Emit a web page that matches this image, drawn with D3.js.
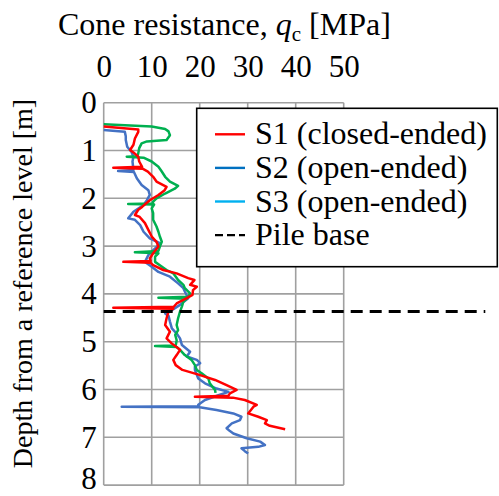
<!DOCTYPE html>
<html>
<head>
<meta charset="utf-8">
<script src="https://cdn.jsdelivr.net/npm/d3@7"></script>
<style>
  body { margin: 0; background: #fff; }
</style>
</head>
<body>
<div id="chart"></div>
<script>
// CPT profiles: [cone resistance qc (MPa), depth (m)]
var s1Points = [
    [0, 0.50], [7.2, 0.56], [7.2, 0.61], [6.5, 0.75], [6.2, 0.88], [5.5, 0.99], [6.2, 1.04], [7.2, 1.13],
    [7.4, 1.23], [8.0, 1.34], [2.0, 1.36], [8.1, 1.38], [9.2, 1.44], [10.3, 1.55], [11.0, 1.65], [13.1, 1.76],
    [12.7, 1.83], [11.4, 1.93], [9.6, 2.04], [8.0, 2.18], [7.2, 2.24], [6.5, 2.35], [7.5, 2.39], [8.6, 2.52],
    [9.3, 2.66], [10.0, 2.80], [11.0, 2.91], [11.4, 3.01], [10.3, 3.15], [9.6, 3.26], [9.8, 3.31], [4.1, 3.33],
    [9.8, 3.35], [10.3, 3.40], [12.4, 3.50], [15.2, 3.57], [17.6, 3.67], [18.9, 3.71], [18.0, 3.81], [19.4, 3.85],
    [18.6, 3.92], [18.5, 4.02], [17.3, 4.09], [15.2, 4.20], [14.6, 4.27], [2.0, 4.29], [14.5, 4.31], [13.5, 4.37],
    [13.1, 4.51], [12.8, 4.65], [13.8, 4.79], [13.1, 4.93], [14.1, 5.03], [15.9, 5.17], [15.2, 5.28], [14.5, 5.38],
    [15.0, 5.49], [16.4, 5.59], [20.1, 5.70], [23.2, 5.80], [25.6, 5.91], [27.7, 6.01], [26.3, 6.08], [26.0, 6.13],
    [19.0, 6.15], [26.9, 6.17], [29.4, 6.22], [31.9, 6.32], [31.2, 6.36], [30.1, 6.50], [32.2, 6.57], [34.0, 6.64],
    [33.6, 6.71], [34.6, 6.76], [37.8, 6.83]
];
var s2Points = [
    [0, 0.57], [4.4, 0.61], [4.6, 0.70], [4.6, 0.78], [4.9, 0.92], [5.8, 1.03], [6.2, 1.13], [6.0, 1.23],
    [6.2, 1.41], [3.0, 1.43], [6.3, 1.45], [6.9, 1.58], [7.9, 1.72], [9.3, 1.83], [9.6, 1.93], [9.0, 2.04],
    [8.3, 2.14], [6.2, 2.28], [5.1, 2.42], [6.5, 2.45], [7.6, 2.56], [8.3, 2.70], [9.6, 2.84], [11.7, 2.94],
    [10.7, 3.05], [9.3, 3.19], [8.6, 3.33], [10.0, 3.43], [11.4, 3.54], [13.8, 3.64], [15.5, 3.78], [16.6, 3.88],
    [16.9, 3.95], [17.6, 4.09], [15.9, 4.23], [14.2, 4.34], [12.8, 4.41], [13.5, 4.46], [13.8, 4.58], [14.2, 4.72],
    [15.2, 4.83], [15.9, 4.93], [16.3, 5.07], [18.0, 5.21], [17.3, 5.31], [19.4, 5.38], [20.1, 5.45], [19.0, 5.52],
    [19.0, 5.59], [19.7, 5.77], [21.1, 5.87], [23.5, 5.98], [26.0, 6.05], [23.9, 6.12], [21.1, 6.22], [19.7, 6.32],
    [19.8, 6.35], [3.75, 6.36], [20.0, 6.37], [23.5, 6.43], [27.0, 6.50], [28.7, 6.57], [28.4, 6.64], [26.7, 6.71],
    [25.6, 6.81], [26.3, 6.87], [27.0, 6.92], [29.8, 7.02], [32.6, 7.09], [33.6, 7.16], [32.2, 7.20], [28.7, 7.23],
    [29.4, 7.29], [30.1, 7.34]
];
var s3Points = [
    [0, 0.45], [10.0, 0.50], [12.8, 0.55], [13.5, 0.60], [13.8, 0.68], [13.1, 0.78], [9.0, 0.81], [7.9, 0.85],
    [7.4, 0.95], [7.2, 1.06], [7.0, 1.12], [4.8, 1.13], [8.3, 1.15], [10.0, 1.23], [11.4, 1.34], [12.1, 1.44],
    [12.8, 1.55], [13.8, 1.65], [15.5, 1.74], [14.8, 1.80], [12.8, 1.90], [11.0, 2.00], [10.3, 2.07], [10.2, 2.11],
    [5.1, 2.12], [10.5, 2.13], [10.0, 2.21], [10.3, 2.31], [10.3, 2.45], [11.0, 2.59], [11.4, 2.70], [11.7, 2.80],
    [12.1, 2.91], [11.7, 3.01], [11.4, 3.10], [6.5, 3.13], [11.4, 3.15], [10.7, 3.22], [10.7, 3.33], [11.7, 3.40],
    [13.1, 3.50], [14.5, 3.57], [15.5, 3.71], [16.6, 3.81], [16.9, 3.88], [18.0, 3.99], [17.6, 4.06], [11.4, 4.08],
    [17.3, 4.10], [16.6, 4.16], [16.3, 4.26], [15.9, 4.37], [15.5, 4.51], [15.2, 4.65], [15.5, 4.76], [14.9, 4.86],
    [15.2, 4.97], [15.0, 5.08], [10.7, 5.09], [15.2, 5.11], [15.9, 5.17], [16.9, 5.28], [18.3, 5.38], [19.0, 5.49],
    [19.4, 5.59], [20.4, 5.66], [21.8, 5.77], [22.1, 5.87], [23.2, 6.01], [23.3, 6.07]
];
// pile base depth, drawn as a dashed line from qc 0 out past the legend
var pileBase = [[0, 4.37], [79.5, 4.37]];

var xTicks = [0, 10, 20, 30, 40, 50];
var yTicks = [0, 1, 2, 3, 4, 5, 6, 7, 8];
var legendLabels = ["S1 (closed-ended)", "S2 (open-ended)", "S3 (open-ended)", "Pile base"];

var serif = "'Liberation Serif', 'Noto Serif', 'DejaVu Serif', 'Times New Roman', Times, 'Nimbus Roman', FreeSerif, serif";

// SVG canvas
var svgWidth = 499;
var svgHeight = 496;

var margin = { top: 102.7, left: 103.7 };
var chartWidth = 240;
var chartHeight = 382.4;

var svg = d3.select("#chart").append("svg")
    .attr("width", svgWidth)
    .attr("height", svgHeight)
    .style("font-family", serif);

var chartGroup = svg.append("g")
    .attr("transform", `translate(${margin.left}, ${margin.top})`);

// scales: qc along the top, depth increasing downward
var xScale = d3.scaleLinear().domain([0, 50]).range([0, chartWidth]);
var yScale = d3.scaleLinear().domain([0, 8]).range([0, chartHeight]);

// gridlines
chartGroup.selectAll(".vgrid")
    .data(xTicks)
    .enter()
    .append("line")
    .attr("x1", d => xScale(d))
    .attr("x2", d => xScale(d))
    .attr("y1", 0)
    .attr("y2", chartHeight)
    .attr("stroke", "#a0a0a0")
    .attr("stroke-width", 1.6);

chartGroup.selectAll(".hgrid")
    .data(yTicks)
    .enter()
    .append("line")
    .attr("x1", 0)
    .attr("x2", chartWidth)
    .attr("y1", d => yScale(d))
    .attr("y2", d => yScale(d))
    .attr("stroke", "#a0a0a0")
    .attr("stroke-width", 1.6);

// axes (labels only)
var topAxis = d3.axisTop(xScale).tickValues(xTicks).tickSize(0).tickPadding(26);
var leftAxis = d3.axisLeft(yScale).tickValues(yTicks).tickSize(0).tickPadding(7);

var gx = chartGroup.append("g").call(topAxis);
var gy = chartGroup.append("g").call(leftAxis);
[gx, gy].forEach(function (g) {
    g.attr("font-family", null).attr("font-size", 31);
    g.select(".domain").remove();
    g.selectAll("text").attr("fill", "#000").style("font-family", serif);
});
// keep the bottom label inside the canvas
gy.selectAll("text").filter(d => d === 8).attr("dy", "0.12em");

// profile lines
var line = d3.line()
    .x(d => xScale(d[0]))
    .y(d => yScale(d[1]));

var series = [
    { pts: s2Points, color: "#4472C4" },
    { pts: s3Points, color: "#00B050" },
    { pts: s1Points, color: "#FF0000" }
];

series.forEach(function (s) {
    chartGroup.append("path")
        .datum(s.pts)
        .attr("d", line)
        .attr("fill", "none")
        .attr("stroke", s.color)
        .attr("stroke-width", 2.5)
        .attr("stroke-linejoin", "round");
});

// legend box
var legend = svg.append("g");
legend.append("rect")
    .attr("x", 196.7)
    .attr("y", 108.3)
    .attr("width", 300.6)
    .attr("height", 158.4)
    .attr("fill", "#fff")
    .attr("stroke", "#000")
    .attr("stroke-width", 1.6);

var legendColors = ["#FF0000", "#0070C0", "#00B0F0", "#000"];
legendLabels.forEach(function (label, i) {
    var y = 144.3 + i * 33.6;
    legend.append("line")
        .attr("x1", 215)
        .attr("x2", 245)
        .attr("y1", y - 10)
        .attr("y2", y - 10)
        .attr("stroke", legendColors[i])
        .attr("stroke-width", 2.4)
        .attr("stroke-dasharray", i === 3 ? "8,4" : null);
    legend.append("text")
        .attr("x", 255)
        .attr("y", y)
        .attr("font-size", 32)
        .style("font-family", serif)
        .text(label);
});

// pile base
chartGroup.append("path")
    .datum(pileBase)
    .attr("d", line)
    .attr("fill", "none")
    .attr("stroke", "#000")
    .attr("stroke-width", 3)
    .attr("stroke-dasharray", "12,7");

// axis titles
var title = svg.append("text")
    .attr("x", 58)
    .attr("y", 35)
    .attr("font-size", 32)
    .style("font-family", serif);
title.append("tspan").text("Cone resistance, ");
title.append("tspan").attr("font-style", "italic").text("q");
title.append("tspan").attr("dy", 6).attr("font-size", 21).text("c");
title.append("tspan").attr("dy", -6).text(" [MPa]");

svg.append("text")
    .attr("transform", "translate(32, 283.5) rotate(-90)")
    .attr("text-anchor", "middle")
    .attr("font-size", 28)
    .style("font-family", serif)
    .text("Depth from a reference level [m]");
</script>
</body>
</html>
